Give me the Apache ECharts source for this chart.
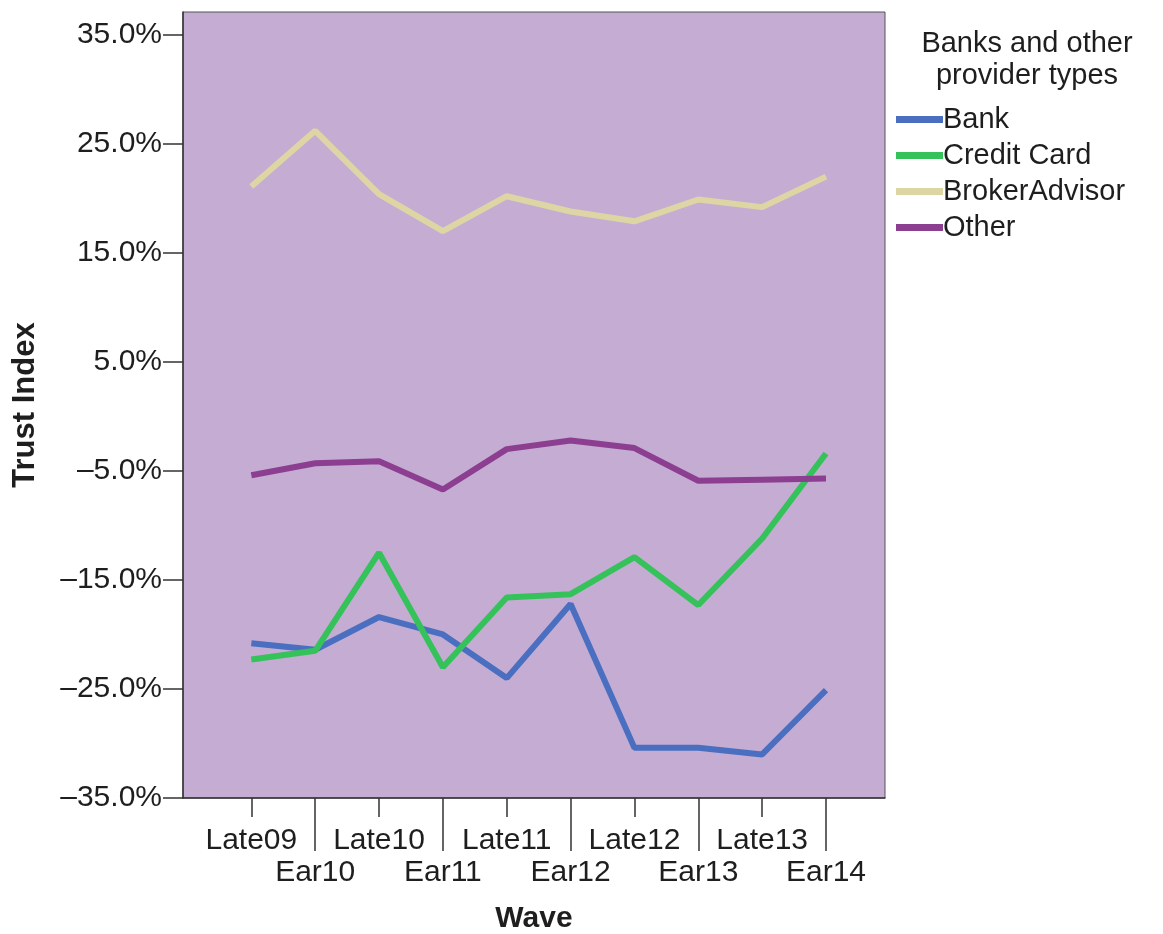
<!DOCTYPE html>
<html>
<head>
<meta charset="utf-8">
<script src="https://cdn.jsdelivr.net/npm/echarts@6/dist/echarts.min.js"></script>
<style>
html,body{margin:0;padding:0;background:#fff;}
#chart{width:1163px;height:934px;}
</style>
</head>
<body>
<div id="chart"></div>
<script>
const waves = ['Late09','Ear10','Late10','Ear11','Late11','Ear12','Late12','Ear13','Late13','Ear14'];
const bank = [-20.8, -21.4, -18.4, -20.0, -24.0, -17.2, -30.4, -30.4, -31.0, -25.1];
const creditCard = [-22.3, -21.5, -12.5, -23.0, -16.6, -16.3, -12.9, -17.3, -11.2, -3.4];
const brokerAdvisor = [21.1, 26.2, 20.4, 17.0, 20.2, 18.8, 17.9, 19.9, 19.2, 22.0];
const other = [-5.4, -4.3, -4.1, -6.7, -3.0, -2.2, -2.9, -5.9, -5.8, -5.7];
const yTicks = [-35, -25, -15, -5, 5, 15, 25, 35];
const seriesNames = ['Bank', 'Credit Card', 'BrokerAdvisor', 'Other'];
const seriesColors = ['#4a6fc0', '#35c25a', '#ddd6a4', '#8c3f90'];
const legendTitle = 'Banks and other\nprovider types';

const lateIdx = waves.map((w, i) => i).filter(i => i % 2 === 0);
const earIdx = waves.map((w, i) => i).filter(i => i % 2 === 1);
const FONT = '"Liberation Sans", Arial, sans-serif';
const TXT = '#1e1e1e';
const AX = 30;

function pct(v) {
  const s = Math.abs(v).toFixed(1) + '%';
  return v < 0 ? '\u2013' + s : s;
}

const allData = [bank, creditCard, brokerAdvisor, other];

const chart = echarts.init(document.getElementById('chart'), null, {renderer: 'canvas'});
chart.setOption({
  animation: false,
  backgroundColor: '#ffffff',
  textStyle: {fontFamily: FONT},
  title: {
    text: legendTitle,
    left: 1022,
    top: 23,
    textAlign: 'center',
    textStyle: {fontFamily: FONT, fontSize: 29, fontWeight: 'normal', color: TXT, lineHeight: 32}
  },
  legend: {
    orient: 'vertical',
    left: 891,
    top: 100,
    itemWidth: 47,
    itemHeight: 7,
    itemGap: 7,
    icon: 'rect',
    data: seriesNames,
    textStyle: {fontFamily: FONT, fontSize: 29, color: TXT, padding: [0, 0, 0, -5]}
  },
  grid: {
    left: 183, right: 278, top: 12, bottom: 136,
    outerBoundsMode: 'none',
    show: true, backgroundColor: '#c5acd3', borderColor: '#555555', borderWidth: 1,
    containLabel: false
  },
  xAxis: [
    {
      type: 'value', position: 'bottom', min: -1.07, max: 9.924,
      axisLine: {show: true, onZero: false, lineStyle: {color: '#333', width: 1.5}},
      splitLine: {show: false},
      axisTick: {show: true, customValues: lateIdx, length: 19, lineStyle: {color: '#333', width: 1.5}},
      axisLabel: {
        customValues: lateIdx, margin: 28, fontFamily: FONT, fontSize: AX, color: TXT,
        formatter: v => waves[Math.round(v)]
      },
      name: 'Wave', nameLocation: 'middle', nameGap: 106,
      nameTextStyle: {fontFamily: FONT, fontSize: AX, fontWeight: 'bold', color: TXT}
    },
    {
      type: 'value', position: 'bottom', min: -1.07, max: 9.924, offset: 0,
      axisLine: {show: false, onZero: false},
      splitLine: {show: false},
      axisTick: {show: true, customValues: earIdx, length: 53, lineStyle: {color: '#333', width: 1.5}},
      axisLabel: {
        customValues: earIdx, margin: 60, fontFamily: FONT, fontSize: AX, color: TXT,
        formatter: v => waves[Math.round(v)]
      }
    }
  ],
  yAxis: {
    type: 'value', min: -35, max: 37.1,
    axisLine: {show: true, onZero: false, lineStyle: {color: '#333', width: 1.5}},
    splitLine: {show: false},
    axisTick: {show: true, customValues: yTicks, length: 20, lineStyle: {color: '#333', width: 1.5}},
    axisLabel: {
      customValues: yTicks, margin: 21, fontFamily: FONT, fontSize: AX, color: TXT,
      formatter: v => pct(v)
    },
    name: 'Trust Index', nameLocation: 'middle', nameGap: 142,
    nameTextStyle: {fontFamily: FONT, fontSize: 31, fontWeight: 'bold', color: TXT}
  },
  series: seriesNames.map((n, k) => ({
    name: n,
    type: 'line',
    xAxisIndex: 0,
    showSymbol: false,
    symbol: 'none',
    color: seriesColors[k],
    lineStyle: {width: 6, color: seriesColors[k]},
    data: allData[k].map((v, i) => [i, v])
  }))
});
</script>
</body>
</html>
